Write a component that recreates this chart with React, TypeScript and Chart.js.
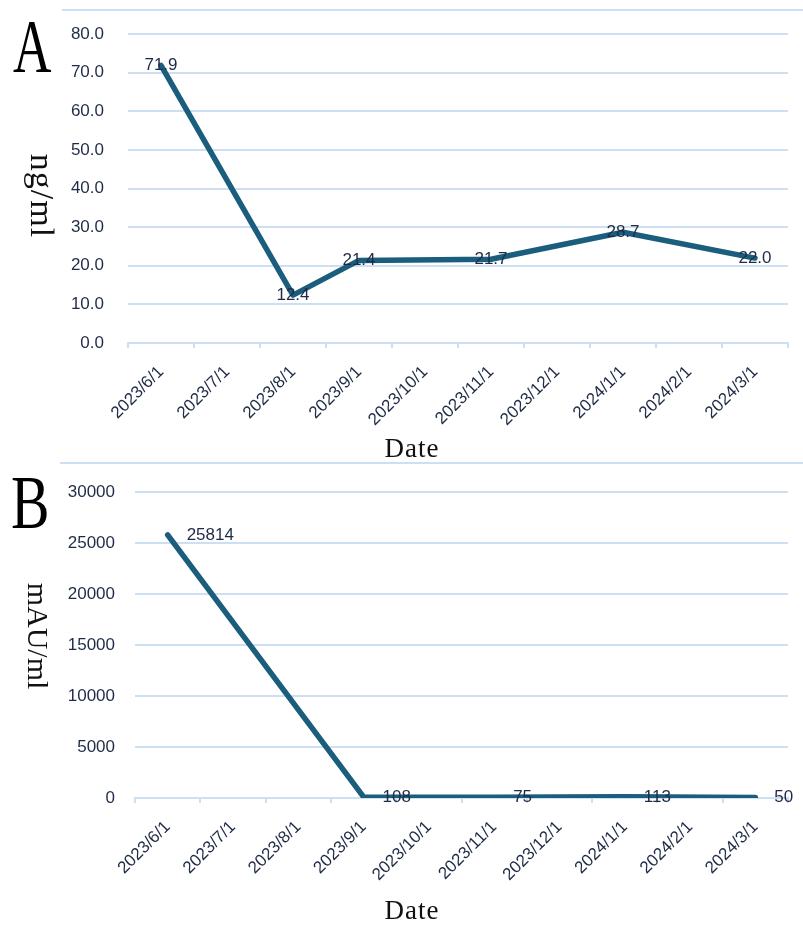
import React, { useEffect, useRef } from "react";
import { Chart, registerables } from "chart.js";

Chart.register(...registerables);

// ---------------- data ----------------
const categories = [
  "2023/6/1",
  "2023/7/1",
  "2023/8/1",
  "2023/9/1",
  "2023/10/1",
  "2023/11/1",
  "2023/12/1",
  "2024/1/1",
  "2024/2/1",
  "2024/3/1",
];
const ngValues: (number | null)[] = [71.9, null, 12.4, 21.4, null, 21.7, null, 28.7, null, 22.0];
const mauValues: (number | null)[] = [25814, null, null, 108, null, 75, null, 113, null, 50];
const ngTicks = [0, 10, 20, 30, 40, 50, 60, 70, 80];
const mauTicks = [0, 5000, 10000, 15000, 20000, 25000, 30000];

// ---------------- style ----------------
const GRID = "#cddff3";
const LINE = "#1a5d7c";
const TEXT = "#1f2b46";
const SANS = "'Liberation Sans', Arial, sans-serif";
const SERIF = "'Liberation Serif', 'Times New Roman', serif";

function makeLabelPlugin(align: "center" | "left", dx: number, fmt: (v: number) => string) {
  return {
    id: "valueLabels",
    afterDatasetsDraw(chart: any) {
      const ctx = chart.ctx;
      const meta = chart.getDatasetMeta(0);
      const data = chart.data.datasets[0].data as (number | null)[];
      ctx.save();
      ctx.font = `17px ${SANS}`;
      ctx.fillStyle = TEXT;
      ctx.textAlign = align;
      ctx.textBaseline = "middle";
      meta.data.forEach((pt: any, i: number) => {
        const v = data[i];
        if (v == null) return;
        ctx.fillText(fmt(v), pt.x + dx, pt.y);
      });
      ctx.restore();
    },
  };
}

interface PanelProps {
  width: number;
  height: number;
  values: (number | null)[];
  yTicks: number[];
  yFmt: (v: number) => string;
  axisWidth: number;
  axisHeight: number;
  padTop: number;
  yPad: number;
  plugin: any;
}

function Panel(p: PanelProps) {
  const ref = useRef<HTMLCanvasElement>(null);
  useEffect(() => {
    if (!ref.current) return;
    const yMax = p.yTicks[p.yTicks.length - 1];
    const chart = new Chart(ref.current, {
      type: "line",
      data: {
        labels: categories,
        datasets: [
          {
            data: p.values,
            borderColor: LINE,
            borderWidth: 5.5,
            pointRadius: 0,
            pointHoverRadius: 0,
            spanGaps: true,
            tension: 0,
            fill: false,
            borderJoinStyle: "round",
            borderCapStyle: "round",
          } as any,
        ],
      },
      options: {
        animation: false,
        responsive: false,
        devicePixelRatio: 1,
        layout: { padding: { top: p.padTop, right: 15, left: 0, bottom: 0 } },
        plugins: { legend: { display: false }, tooltip: { enabled: false } },
        scales: {
          x: {
            type: "category",
            offset: true,
            grid: {
              offset: true,
              drawOnChartArea: false,
              drawTicks: true,
              tickLength: 5,
              color: GRID,
              lineWidth: 2,
            },
            border: { display: true, color: GRID, width: 2 },
            ticks: {
              autoSkip: false,
              minRotation: 45,
              maxRotation: 45,
              padding: 14,
              color: TEXT,
              font: { family: SANS, size: 17 },
            },
            afterFit: (s: any) => {
              s.height = p.axisHeight;
            },
          } as any,
          y: {
            min: 0,
            max: yMax,
            afterBuildTicks: (s: any) => {
              s.ticks = p.yTicks.map((v) => ({ value: v }));
            },
            grid: { color: GRID, lineWidth: 2, drawTicks: false },
            border: { display: false },
            ticks: {
              padding: p.yPad,
              color: TEXT,
              font: { family: SANS, size: 17 },
              callback: (v: any) => p.yFmt(Number(v)),
            },
            afterFit: (s: any) => {
              s.width = p.axisWidth;
            },
          } as any,
        },
      },
      plugins: [p.plugin],
    });
    return () => chart.destroy();
  }, []);
  return <canvas ref={ref} width={p.width} height={p.height} style={{ display: "block" }} />;
}

const abs = (s: React.CSSProperties): React.CSSProperties => ({ position: "absolute", margin: 0, ...s });

export default function App() {
  return (
    <div style={{ position: "fixed", left: 0, top: 0, width: 803, height: 928, background: "#ffffff", overflow: "hidden" }}>
      <div style={abs({ left: 0, top: 0 })}>
        <Panel
          width={803}
          height={462}
          values={ngValues}
          yTicks={ngTicks}
          yFmt={(v) => v.toFixed(1)}
          axisWidth={128}
          axisHeight={119}
          padTop={34}
          yPad={24}
          plugin={makeLabelPlugin("center", 0, (v) => v.toFixed(1))}
        />
      </div>
      <div style={abs({ left: 0, top: 462 })}>
        <Panel
          width={803}
          height={466}
          values={mauValues}
          yTicks={mauTicks}
          yFmt={(v) => String(v)}
          axisWidth={135}
          axisHeight={130}
          padTop={26}
          yPad={20}
          plugin={makeLabelPlugin("left", 19, (v) => String(Math.round(v)))}
        />
      </div>

      {/* frame lines */}
      <div style={abs({ left: 62, top: 9, width: 741, height: 2, background: GRID })} />
      <div style={abs({ left: 60, top: 462, width: 743, height: 2, background: GRID })} />

      {/* panel letters */}
      <div
        style={abs({
          left: 13,
          top: 8,
          fontFamily: SERIF,
          fontSize: 76,
          lineHeight: 1,
          color: "#000",
          transform: "scaleX(0.7)",
          transformOrigin: "left top",
        })}
      >
        A
      </div>
      <div
        style={abs({
          left: 11,
          top: 464,
          fontFamily: SERIF,
          fontSize: 76,
          lineHeight: 1,
          color: "#000",
          transform: "scaleX(0.76)",
          transformOrigin: "left top",
        })}
      >
        B
      </div>

      {/* y axis titles (rotated clockwise) */}
      <div
        style={abs({
          left: 42,
          top: 196,
          fontFamily: SERIF,
          fontSize: 34,
          lineHeight: 1,
          letterSpacing: 1,
          whiteSpace: "nowrap",
          color: "#111",
          transform: "translate(-50%, -50%) rotate(90deg)",
        })}
      >
        ng/ml
      </div>
      <div
        style={abs({
          left: 38,
          top: 636,
          fontFamily: SERIF,
          fontSize: 30,
          lineHeight: 1,
          whiteSpace: "nowrap",
          color: "#111",
          transform: "translate(-50%, -50%) rotate(90deg)",
        })}
      >
        mAU/ml
      </div>

      {/* x axis titles */}
      <div
        style={abs({
          left: 412,
          top: 448,
          fontFamily: SERIF,
          fontSize: 27,
          lineHeight: 1,
          letterSpacing: 1,
          whiteSpace: "nowrap",
          color: "#111",
          transform: "translate(-50%, -50%)",
        })}
      >
        Date
      </div>
      <div
        style={abs({
          left: 412,
          top: 910,
          fontFamily: SERIF,
          fontSize: 27,
          lineHeight: 1,
          letterSpacing: 1,
          whiteSpace: "nowrap",
          color: "#111",
          transform: "translate(-50%, -50%)",
        })}
      >
        Date
      </div>
    </div>
  );
}
